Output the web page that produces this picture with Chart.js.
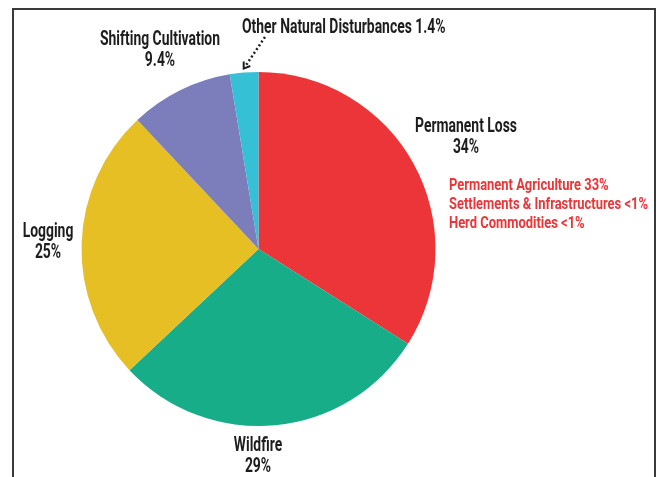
<!DOCTYPE html>
<html>
<head>
<meta charset="utf-8">
<script src="https://cdn.jsdelivr.net/npm/chart.js@4"></script>
<style>
  html, body { margin: 0; padding: 0; background: #fff; }
  canvas { display: block; }
</style>
</head>
<body>
<canvas id="lossChart" width="660" height="477"></canvas>
<script>
// Données
const categories = ['Permanent Loss', 'Wildfire', 'Logging', 'Shifting Cultivation', 'Other Natural Disturbances'];
const shareLabels = ['34%', '29%', '25%', '9.4%', '1.4%'];
// slice sizes as drawn in the picture (the cyan slice fills the circle up to 100)
const sliceValues = [34, 29, 25, 9.4, 2.6];
const sliceColors = ['#EC3538', '#17AD89', '#E6BF24', '#7B7EBA', '#35C0D6'];
const permanentBreakdown = ['Permanent Agriculture 33%', 'Settlements & Infrastructures <1%', 'Herd Commodities <1%'];

const FONT = 'Roboto, "DejaVu Sans Condensed", sans-serif';
const BLACK_FONT = 'bold 21px ' + FONT;
const RED_FONT = 'bold 16px ' + FONT;

// label placement: [category index, x, y of first line]
const labelSpots = [
  [0, 466, 132],
  [1, 258, 451],
  [2, 48, 237],
  [3, 160, 45]
];

// squeeze factor so that a reference string gets the width seen in the picture
function squeezeFor(ctx, font, text, width) {
  ctx.save();
  ctx.font = font;
  const w = ctx.measureText(text).width;
  ctx.restore();
  return width / w;
}

function condensedText(ctx, text, x, y, align, sx) {
  ctx.save();
  ctx.translate(x, y);
  ctx.scale(sx, 1);
  ctx.textAlign = align;
  ctx.fillText(text, 0, 0);
  ctx.restore();
}

const annotations = {
  id: 'annotations',
  afterDraw(chart) {
    const ctx = chart.ctx;
    const sxBlack = squeezeFor(ctx, BLACK_FONT, categories[3], 120);
    const sxRed = squeezeFor(ctx, RED_FONT, permanentBreakdown[1], 199);

    // cadre
    ctx.save();
    ctx.strokeStyle = '#3a3a3a';
    ctx.lineWidth = 2;
    ctx.beginPath();
    ctx.moveTo(13, 477);
    ctx.lineTo(13, 9);
    ctx.lineTo(655, 9);
    ctx.lineTo(655, 477);
    ctx.stroke();
    ctx.restore();

    // black category labels
    ctx.save();
    ctx.fillStyle = '#1d1d1d';
    ctx.textBaseline = 'alphabetic';
    ctx.font = BLACK_FONT;
    labelSpots.forEach(([i, x, y]) => {
      condensedText(ctx, categories[i], x, y, 'center', sxBlack);
      condensedText(ctx, shareLabels[i], x, y + 21, 'center', sxBlack);
    });
    // other natural disturbances, on one line
    condensedText(ctx, categories[4] + ' ' + shareLabels[4], 242, 33, 'left', sxBlack);

    // red breakdown of permanent loss
    ctx.fillStyle = '#EC3538';
    ctx.font = RED_FONT;
    permanentBreakdown.forEach((t, k) => {
      condensedText(ctx, t, 449, 190 + k * 19, 'left', sxRed);
    });
    ctx.restore();

    // flèche pointillée vers la petite part
    const arc = chart.getDatasetMeta(0).data[4];
    const mid = (arc.startAngle + arc.endAngle) / 2;
    const tipX = arc.x + Math.cos(mid) * (arc.outerRadius + 4);
    const tipY = arc.y + Math.sin(mid) * (arc.outerRadius + 4);
    const fromX = 265, fromY = 37;
    const ang = Math.atan2(tipY - fromY, tipX - fromX);
    ctx.save();
    ctx.strokeStyle = '#1d1d1d';
    ctx.lineWidth = 2.5;
    ctx.setLineDash([2, 2.5]);
    ctx.beginPath();
    ctx.moveTo(fromX, fromY);
    ctx.lineTo(tipX - Math.cos(ang) * 2, tipY - Math.sin(ang) * 2);
    ctx.stroke();
    ctx.setLineDash([]);
    ctx.lineWidth = 2;
    ctx.beginPath();
    ctx.moveTo(tipX - Math.cos(ang - 0.6) * 7, tipY - Math.sin(ang - 0.6) * 7);
    ctx.lineTo(tipX, tipY);
    ctx.lineTo(tipX - Math.cos(ang + 0.6) * 7, tipY - Math.sin(ang + 0.6) * 7);
    ctx.stroke();
    ctx.restore();
  }
};

new Chart(document.getElementById('lossChart').getContext('2d'), {
  type: 'pie',
  data: {
    labels: categories,
    datasets: [{
      data: sliceValues,
      backgroundColor: sliceColors,
      borderWidth: 0
    }]
  },
  options: {
    responsive: false,
    animation: false,
    layout: {
      padding: { left: 81, right: 224, top: 72, bottom: 51 }
    },
    plugins: {
      legend: { display: false },
      tooltip: { enabled: false }
    }
  },
  plugins: [annotations]
});
</script>
</body>
</html>
